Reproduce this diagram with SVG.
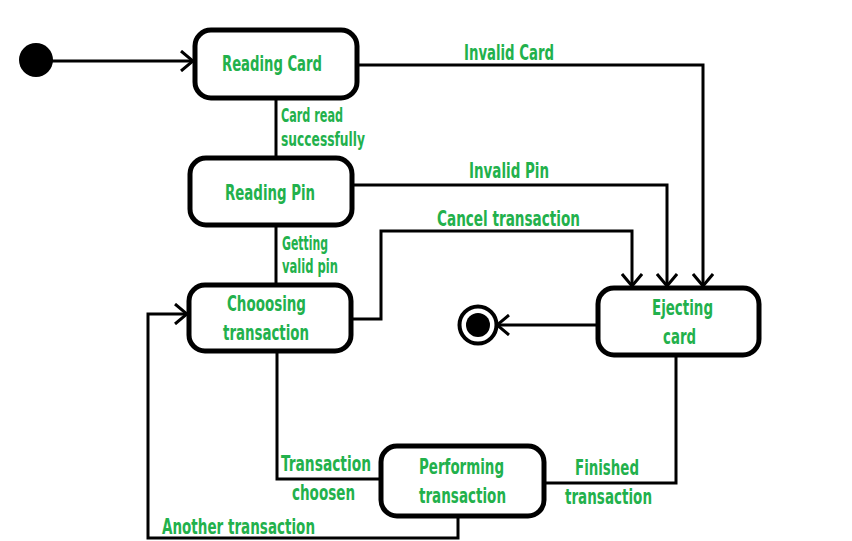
<svg xmlns="http://www.w3.org/2000/svg" width="852" height="541" viewBox="0 0 852 541">
<style>
.node{fill:#fff;stroke:#000;stroke-width:5}
.conn{fill:none;stroke:#000;stroke-width:3}
text{font-family:"DejaVu Sans Condensed","DejaVu Sans","Liberation Sans",sans-serif;font-weight:bold;font-stretch:condensed;font-size:21px;fill:#22b14c}
.sm{font-size:19px}
</style>
<defs>
<marker id="ah" viewBox="0 0 14 22" refX="13" refY="11" markerWidth="14" markerHeight="22" markerUnits="userSpaceOnUse" orient="auto">
<path d="M1,1 L13,11 L1,21" fill="none" stroke="#000" stroke-width="3"/>
</marker>
</defs>
<rect width="852" height="541" fill="#fff"/>
<g id="connectors">
<line class="conn" x1="52" y1="61" x2="193" y2="61" marker-end="url(#ah)"/>
<polyline class="conn" points="358,65 703,65 703,286" marker-end="url(#ah)"/>
<line class="conn" x1="276" y1="98" x2="276" y2="157"/>
<polyline class="conn" points="353,185 667,185 667,286" marker-end="url(#ah)"/>
<line class="conn" x1="276" y1="226" x2="276" y2="284"/>
<polyline class="conn" points="352,319 381,319 381,231 632,231 632,286" marker-end="url(#ah)"/>
<line class="conn" x1="597" y1="325" x2="497" y2="325" marker-end="url(#ah)"/>
<polyline class="conn" points="277,352 277,479 381,479"/>
<polyline class="conn" points="544,483 676,483 676,357"/>
<polyline class="conn" points="458,516 458,538 148,538 148,314 187,314" marker-end="url(#ah)"/>
</g>
<g id="initial"><circle cx="36" cy="60" r="17" fill="#000"/></g>
<g id="reading-card">
<rect class="node" x="195" y="30" width="162" height="68" rx="16"/>
<text x="222" y="71" textLength="100" lengthAdjust="spacingAndGlyphs">Reading Card</text>
</g>
<g id="reading-pin">
<rect class="node" x="190" y="158" width="162" height="67" rx="16"/>
<text x="225" y="200" textLength="90" lengthAdjust="spacingAndGlyphs">Reading Pin</text>
</g>
<g id="choosing">
<rect class="node" x="189" y="285" width="162" height="66" rx="16"/>
<text x="227" y="311" textLength="79" lengthAdjust="spacingAndGlyphs">Chooosing</text>
<text x="223" y="340" textLength="86" lengthAdjust="spacingAndGlyphs">transaction</text>
</g>
<g id="ejecting">
<rect class="node" x="598" y="288" width="161" height="67" rx="16"/>
<text x="652" y="315" textLength="61" lengthAdjust="spacingAndGlyphs">Ejecting</text>
<text x="663" y="344" textLength="33" lengthAdjust="spacingAndGlyphs">card</text>
</g>
<g id="performing">
<rect class="node" x="381" y="446" width="163" height="70" rx="16"/>
<text x="419" y="474" textLength="85" lengthAdjust="spacingAndGlyphs">Performing</text>
<text x="419" y="503" textLength="87" lengthAdjust="spacingAndGlyphs">transaction</text>
</g>
<g id="final">
<circle cx="478" cy="325" r="18.5" fill="#fff" stroke="#000" stroke-width="4"/>
<circle cx="478" cy="325" r="12" fill="#000"/>
</g>
<g id="labels">
<text x="464" y="60" textLength="90" lengthAdjust="spacingAndGlyphs">Invalid Card</text>
<text class="sm" x="281" y="122" textLength="62" lengthAdjust="spacingAndGlyphs">Card read</text>
<text class="sm" x="281" y="146" textLength="84" lengthAdjust="spacingAndGlyphs">successfully</text>
<text x="469" y="178" textLength="80" lengthAdjust="spacingAndGlyphs">Invalid Pin</text>
<text x="437" y="226" textLength="143" lengthAdjust="spacingAndGlyphs">Cancel transaction</text>
<text class="sm" x="282" y="250" textLength="46" lengthAdjust="spacingAndGlyphs">Getting</text>
<text class="sm" x="282" y="273" textLength="56" lengthAdjust="spacingAndGlyphs">valid pin</text>
<text x="281" y="471" textLength="90" lengthAdjust="spacingAndGlyphs">Transaction</text>
<text x="292" y="500" textLength="63" lengthAdjust="spacingAndGlyphs">choosen</text>
<text x="575" y="475" textLength="64" lengthAdjust="spacingAndGlyphs">Finished</text>
<text x="565" y="504" textLength="87" lengthAdjust="spacingAndGlyphs">transaction</text>
<text x="162" y="534" textLength="153" lengthAdjust="spacingAndGlyphs">Another transaction</text>
</g>
</svg>
